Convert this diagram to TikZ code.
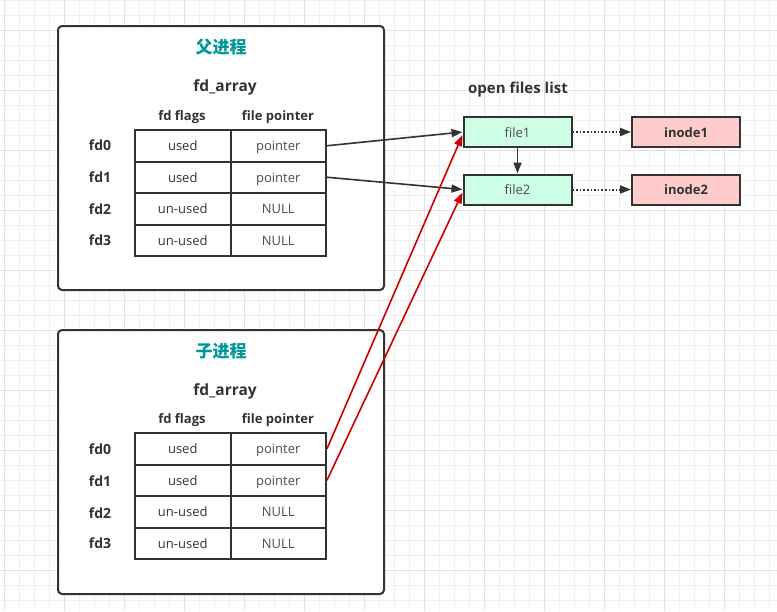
\documentclass[tikz,border=0pt]{standalone}
\usepackage{fontspec}
\setmainfont{Open Sans}
\newfontfamily\cjk{Noto Sans CJK SC}
\usetikzlibrary{arrows.meta}

\definecolor{ink}{HTML}{333333}
\definecolor{soft}{HTML}{4D4D4D}
\definecolor{teal}{HTML}{009999}
\definecolor{mint}{HTML}{CCFFE6}
\definecolor{rose}{HTML}{FFCCCC}
\definecolor{gridminor}{HTML}{F0F0F0}
\definecolor{gridmajor}{HTML}{E2E2E2}
\definecolor{redline}{HTML}{CC0000}

\tikzset{
  procbox/.style={draw=ink, line width=2pt, rounded corners=4pt, fill=white,
    minimum width=326pt, minimum height=264pt, inner sep=0pt},
  cell/.style={draw=ink, line width=2pt, minimum width=95.5pt, minimum height=31.5pt,
    inner sep=0pt, text height=12pt, text depth=2pt, text=ink,
    font=\fontsize{13}{15}\selectfont},
  filebox/.style={draw=ink, line width=2pt, fill=mint, minimum width=108pt,
    minimum height=30pt, inner sep=0pt, text height=12pt, text depth=2pt, text=soft,
    font=\fontsize{13}{15}\selectfont},
  inodebox/.style={filebox, fill=rose, text=ink, font=\fontsize{13}{15}\selectfont\bfseries},
  title/.style={text=teal, font=\fontsize{17}{19}\selectfont\cjk\bfseries},
  head/.style={text=ink, text height=11pt, text depth=4pt, font=\fontsize{15.5}{18}\selectfont\bfseries},
  colhead/.style={text=ink, font=\fontsize{13}{15}\selectfont\bfseries},
  fdlabel/.style={text=ink, font=\fontsize{14}{16}\selectfont\bfseries},
  link/.style={draw=ink, line width=1.6pt, -{Triangle[length=11pt,width=8pt]}},
  redlink/.style={link, draw=redline, -{Triangle[length=11pt,width=8pt,fill=redline]}},
  dotlink/.style={link, dotted, line width=2pt}
}

\begin{document}
\begin{tikzpicture}[x=1pt,y=-1pt]
 \useasboundingbox (0,0) rectangle (777,611);
 % background grid
 \foreach \x in {4,19,...,776} \draw [gridminor, line width=1pt] (\x,0) -- (\x,611);
 \foreach \y in {0,15,...,610} \draw [gridminor, line width=1pt] (0,\y) -- (777,\y);
 \foreach \x in {4,64,...,776} \draw [gridmajor, line width=1pt] (\x,0) -- (\x,611);
 \foreach \y in {30,90,...,610} \draw [gridmajor, line width=1pt] (0,\y) -- (777,\y);

 % parent process
 \node [procbox] (parent) at (221,158) {};
 \node [title] (ptitle) at (221,47) {父进程};
 \node [head] (parray) at (225,88) {fd\_array};
 \node [colhead] (pflags) at (182,117.5) {fd flags};
 \node [colhead] (pptr) at (278,117.5) {file pointer};
 \node [cell] (p0f) at (182.75,145.75) {used};
 \node [cell, text=soft] (p0p) at (278.25,145.75) {pointer};
 \node [cell] (p1f) at (182.75,177.25) {used};
 \node [cell, text=soft] (p1p) at (278.25,177.25) {pointer};
 \node [cell] (p2f) at (182.75,208.75) {un-used};
 \node [cell, text=soft] (p2p) at (278.25,208.75) {NULL};
 \node [cell] (p3f) at (182.75,240.25) {un-used};
 \node [cell, text=soft] (p3p) at (278.25,240.25) {NULL};
 \foreach \i/\y in {0/145,1/177,2/209,3/240}
   \node [fdlabel] (pfd\i) at (100,\y) {fd\i};

 % child process
 \node [procbox] (child) at (221,462) {};
 \node [title] (ctitle) at (221,351) {子进程};
 \node [head] (carray) at (225,392) {fd\_array};
 \node [colhead] (cflags) at (182,420.5) {fd flags};
 \node [colhead] (cptr) at (278,420.5) {file pointer};
 \node [cell] (c0f) at (182.75,448.75) {used};
 \node [cell, text=soft] (c0p) at (278.25,448.75) {pointer};
 \node [cell] (c1f) at (182.75,480.25) {used};
 \node [cell, text=soft] (c1p) at (278.25,480.25) {pointer};
 \node [cell] (c2f) at (182.75,511.75) {un-used};
 \node [cell, text=soft] (c2p) at (278.25,511.75) {NULL};
 \node [cell] (c3f) at (182.75,543.25) {un-used};
 \node [cell, text=soft] (c3p) at (278.25,543.25) {NULL};
 \foreach \i/\y in {0/449,1/481,2/513,3/543}
   \node [fdlabel] (cfd\i) at (100,\y) {fd\i};

 % open files list
 \node [fdlabel, font=\fontsize{15}{17}\selectfont\bfseries] (ofl) at (518,90) {open files list};
 \node [filebox] (file1) at (517.5,132) {file1};
 \node [filebox] (file2) at (517.5,189.5) {file2};
 \node [inodebox] (inode1) at (686,132) {inode1};
 \node [inodebox] (inode2) at (686,189.5) {inode2};

 % connectors
 \draw [link] (p0p.east) -- (file1.west);
 \draw [link] (p1p.east) -- (file2.west);
 \draw [link] (file1) -- (file2);
 \draw [dotlink] (file1) -- (inode1);
 \draw [dotlink] (file2) -- (inode2);
 \draw [redlink] (c0p.east) -- ([yshift=-3pt]file1.west);
 \draw [redlink] (c1p.east) -- ([yshift=-3pt]file2.west);
\end{tikzpicture}
\end{document}
